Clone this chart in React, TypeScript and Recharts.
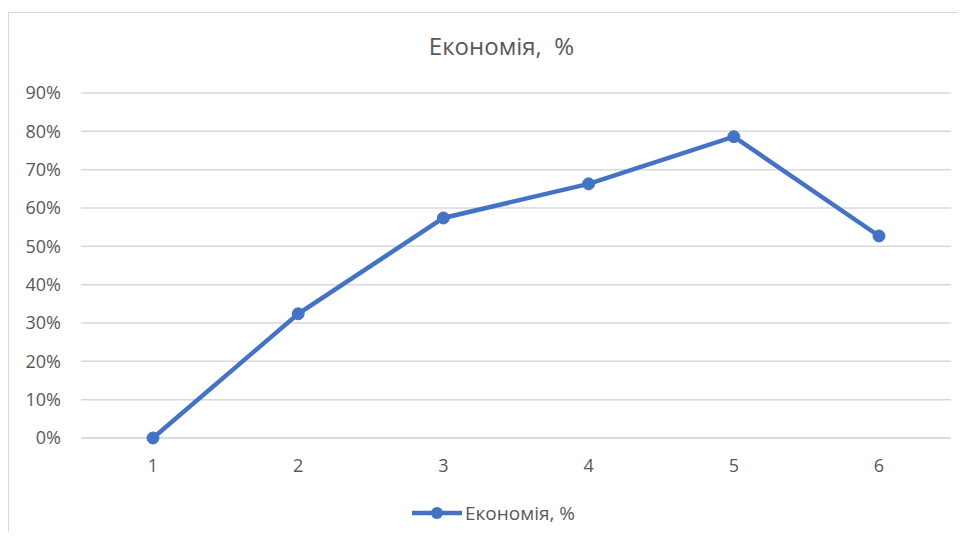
import { LineChart, Line, XAxis, YAxis, CartesianGrid, Legend } from 'recharts';

const categories = ['1', '2', '3', '4', '5', '6'];
const savings = [0, 0.324, 0.574, 0.663, 0.786, 0.527];
const yTicks = [0, 0.1, 0.2, 0.3, 0.4, 0.5, 0.6, 0.7, 0.8, 0.9];

const SERIES_NAME = 'Економія, %';
const BLUE = '#4472C4';
const TEXT = '#595959';
const FONT = '"Open Sans", "Noto Sans", sans-serif';

const data = categories.map((c, i) => ({ name: c, value: savings[i] }));

function LegendContent() {
    return (
        <div
            style={{
                display: 'flex',
                justifyContent: 'center',
                alignItems: 'center',
                paddingLeft: 14,
                fontFamily: FONT,
                fontSize: 19,
                color: TEXT,
            }}
        >
            <svg width={52} height={16} style={{ marginRight: 2 }}>
                <line x1={1} y1={8} x2={51} y2={8} stroke={BLUE} strokeWidth={4.5} />
                <circle cx={26} cy={8} r={6} fill={BLUE} />
            </svg>
            <span>{SERIES_NAME}</span>
        </div>
    );
}

export default function App() {
    return (
        <div
            style={{
                position: 'relative',
                marginTop: 4,
                width: 958,
                height: 520,
                borderLeft: '1px solid #d9d9d9',
                borderTop: '1px solid #d9d9d9',
                boxSizing: 'border-box',
            }}
        >
            <div
                style={{
                    position: 'absolute',
                    top: 16,
                    left: 14,
                    width: 957,
                    textAlign: 'center',
                    fontFamily: FONT,
                    fontSize: 24,
                    color: TEXT,
                    whiteSpace: 'pre',
                }}
            >
                {'Економія,  %'}
            </div>
            <LineChart
                width={957}
                height={519}
                data={data}
                margin={{ top: 80, right: 15, left: 12, bottom: 6 }}
            >
                <CartesianGrid vertical={false} stroke="#d9d9d9" strokeWidth={1.5} />
                <XAxis
                    dataKey="name"
                    padding={{ left: 72, right: 72 }}
                    axisLine={{ stroke: '#d9d9d9', strokeWidth: 1.5 }}
                    tickLine={false}
                    tickSize={0}
                    tickMargin={21}
                    height={62}
                    tick={{ fill: TEXT, fontSize: 18, fontFamily: FONT }}
                />
                <YAxis
                    width={60}
                    domain={[0, 0.9]}
                    ticks={yTicks}
                    axisLine={false}
                    tickLine={false}
                    tickSize={0}
                    tickMargin={20}
                    tickFormatter={(v: number) => `${Math.round(v * 100)}%`}
                    tick={{ fill: TEXT, fontSize: 18, fontFamily: FONT }}
                />
                <Legend verticalAlign="bottom" content={<LegendContent />} />
                <Line
                    type="linear"
                    dataKey="value"
                    name={SERIES_NAME}
                    stroke={BLUE}
                    strokeWidth={4.5}
                    dot={{ r: 6, fill: BLUE, stroke: BLUE, strokeWidth: 1 }}
                    isAnimationActive={false}
                />
            </LineChart>
        </div>
    );
}
